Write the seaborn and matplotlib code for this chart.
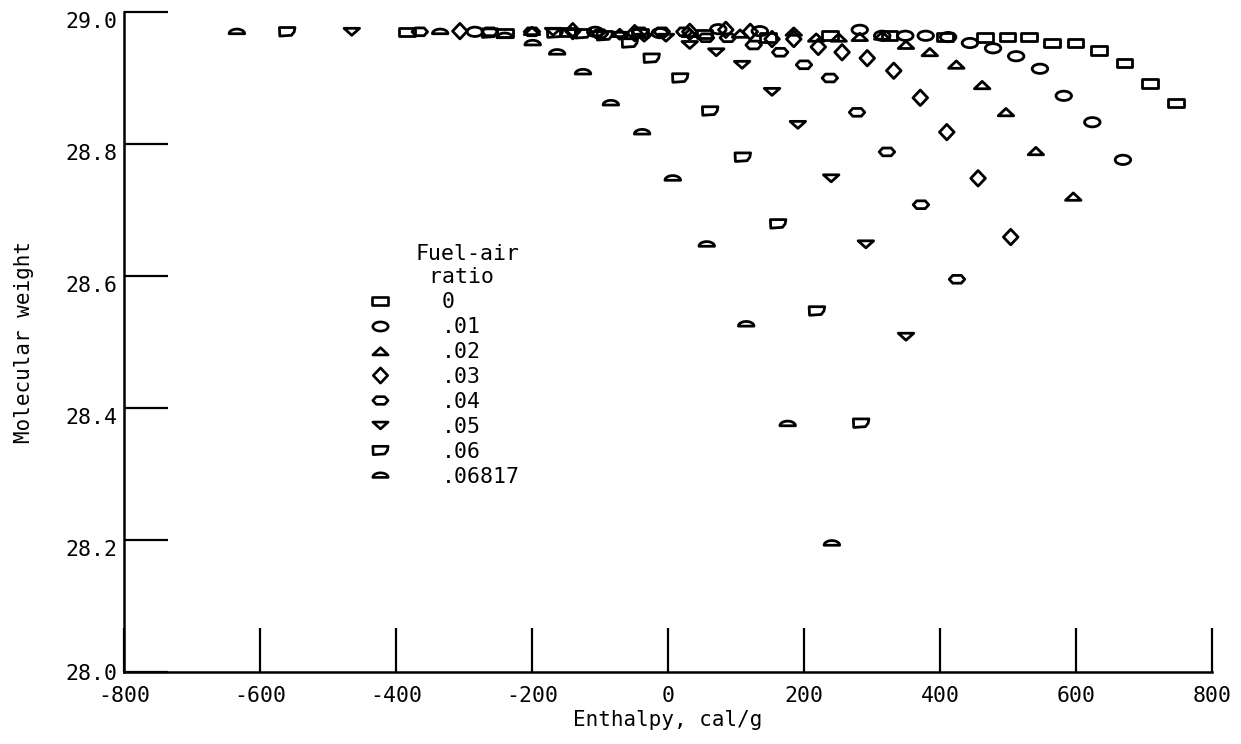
import numpy as np
import pandas as pd
import matplotlib
matplotlib.use("Agg")
import matplotlib.pyplot as plt
from matplotlib.path import Path
from matplotlib.lines import Line2D
import seaborn as sns

# Valores: entalpia (cal/g) y peso molecular por relacion combustible-aire
ratios = ["0", ".01", ".02", ".03", ".04", ".05", ".06", ".06817"]

h_000 = [-384, -240, -147, -41, 54, 147, 238, 326, 407, 466, 499, 531, 565, 599, 634, 671, 709, 747]
mw_000 = [28.970, 28.968, 28.970, 28.968, 28.967, 28.961, 28.964, 28.964, 28.962, 28.961, 28.962,
          28.962, 28.953, 28.953, 28.942, 28.923, 28.892, 28.862]

h_001 = [-284, -107, -12, 74, 135, 282, 315, 349, 379, 412, 444, 478, 512, 547, 582, 624, 669]
mw_001 = [28.970, 28.970, 28.968, 28.974, 28.971, 28.973, 28.964, 28.964, 28.964, 28.962, 28.953,
          28.945, 28.933, 28.914, 28.873, 28.833, 28.776]

h_002 = [-200, -71, 32, 106, 185, 218, 251, 282, 315, 350, 385, 424, 462, 497, 541, 596]
mw_002 = [28.971, 28.968, 28.968, 28.967, 28.970, 28.961, 28.961, 28.962, 28.964, 28.950, 28.939,
          28.920, 28.889, 28.848, 28.789, 28.720]

h_003 = [-306, -140, -49, 32, 85, 121, 153, 185, 221, 256, 293, 332, 371, 410, 456, 504]
mw_003 = [28.971, 28.971, 28.968, 28.970, 28.973, 28.970, 28.959, 28.959, 28.947, 28.939, 28.930,
          28.911, 28.870, 28.818, 28.748, 28.659]

h_004 = [-365, -262, -200, -100, -41, -9, 24, 56, 88, 126, 165, 200, 238, 278, 322, 372, 425]
mw_004 = [28.970, 28.970, 28.970, 28.967, 28.970, 28.970, 28.970, 28.961, 28.961, 28.950, 28.939,
          28.920, 28.900, 28.848, 28.788, 28.708, 28.595]

h_005 = [-465, -169, -140, -103, -71, -35, -3, 32, 71, 109, 153, 191, 240, 291, 350]
mw_005 = [28.970, 28.970, 28.968, 28.965, 28.964, 28.961, 28.961, 28.950, 28.939, 28.920, 28.879,
          28.829, 28.748, 28.648, 28.508]

h_006 = [-560, -262, -166, -125, -93, -56, -24, 18, 62, 110, 162, 219, 284]
mw_006 = [28.970, 28.968, 28.968, 28.967, 28.964, 28.953, 28.930, 28.900, 28.850, 28.780, 28.679,
          28.547, 28.377]

h_068 = [-634, -335, -240, -199, -163, -125, -84, -38, 7, 57, 115, 176, 241]
mw_068 = [28.970, 28.970, 28.964, 28.953, 28.939, 28.909, 28.862, 28.818, 28.748, 28.648, 28.527,
          28.376, 28.195]

x_ticks = [-800, -600, -400, -200, 0, 200, 400, 600, 800]
y_ticks = [28.0, 28.2, 28.4, 28.6, 28.8, 29.0]

series_h = [h_000, h_001, h_002, h_003, h_004, h_005, h_006, h_068]
series_mw = [mw_000, mw_001, mw_002, mw_003, mw_004, mw_005, mw_006, mw_068]

df = pd.concat([pd.DataFrame({"Enthalpy": h, "MW": mw, "ratio": r})
                for h, mw, r in zip(series_h, series_mw, ratios)], ignore_index=True)


# formas de los simbolos
def forma(verts):
    verts = np.asarray(verts, float)
    codes = [Path.MOVETO] + [Path.LINETO] * (len(verts) - 1) + [Path.CLOSEPOLY]
    return Path(np.vstack([verts, verts[:1]]), codes)


circ = Path.unit_circle()
elipse = Path(circ.vertices * [1, 0.6], circ.codes)
t = np.linspace(0, np.pi, 24)
cupula = forma(np.column_stack([np.cos(t), -0.25 + 0.6 * np.sin(t)]))

marcadores = {
    "0": forma([(-1, -0.55), (1, -0.55), (1, 0.55), (-1, 0.55)]),
    ".01": elipse,
    ".02": forma([(-1, -0.45), (1, -0.45), (0, 0.5)]),
    ".03": forma([(0, 0.9), (0.85, 0), (0, -0.9), (-0.85, 0)]),
    ".04": forma([(-1, 0), (-0.55, 0.5), (0.55, 0.5), (1, 0), (0.55, -0.5), (-0.55, -0.5)]),
    ".05": forma([(-1, 0.45), (1, 0.45), (0, -0.45)]),
    ".06": forma([(-1, 0.55), (1, 0.55), (0.9, 0.0), (0.55, -0.45), (-0.95, -0.55)]),
    ".06817": cupula,
}

sns.set_style("ticks")
plt.rcParams["font.family"] = ["DejaVu Sans Mono"]
plt.rcParams["axes.unicode_minus"] = False
plt.rcParams["text.color"] = "black"
plt.rcParams["axes.labelcolor"] = "black"

fig = plt.figure(figsize=(12.41, 7.44), dpi=100)
ax = fig.add_axes([124 / 1241, 72 / 744, 1088 / 1241, 660 / 744])

sns.scatterplot(data=df, x="Enthalpy", y="MW", style="ratio", style_order=ratios,
                markers=marcadores, s=125, color="black", edgecolor="black",
                linewidth=2.0, legend=False, ax=ax)
ax.collections[0].set_facecolor("none")

ax.set_xlim(-800, 800)
ax.set_ylim(28.0, 29.0)
ax.set_xticks(x_ticks)
ax.set_yticks(y_ticks)
ax.set_yticklabels([f"{v:.1f}" for v in y_ticks])
ax.tick_params(direction="in", length=32, width=1.6, labelsize=15.5, colors="black")
ax.tick_params(axis="x", pad=10)
ax.tick_params(axis="y", pad=5)
for lab in ax.get_yticklabels()[1:]:
    lab.set_va("top")

for s in ["top", "right"]:
    ax.spines[s].set_visible(False)
for s in ["left", "bottom"]:
    ax.spines[s].set_linewidth(1.8)
    ax.spines[s].set_color("black")

ax.set_xlabel("Enthalpy, cal/g", fontsize=15, color="black")
ax.set_ylabel("Molecular weight", fontsize=15, color="black")
ax.xaxis.set_label_coords(0.5, -0.058)
ax.yaxis.set_label_coords(-0.083, 0.5)

handles = [Line2D([], [], linestyle="none", marker=marcadores[r], markersize=11,
                  markerfacecolor="none", markeredgecolor="black", markeredgewidth=1.9)
           for r in ratios]
leg = ax.legend(handles, ratios, title="Fuel-air\n ratio", loc="upper left",
                bbox_to_anchor=(358 / 1241, 1 - 244 / 744), bbox_transform=fig.transFigure,
                frameon=False, borderpad=0, borderaxespad=0, handlelength=2,
                handletextpad=1.9, labelspacing=0.23, alignment="right",
                fontsize=15.5, title_fontsize=15.5)
for txt in leg.get_texts():
    txt.set_color("black")
leg.get_title().set_color("black")

fig.savefig("out.png", dpi=100)
